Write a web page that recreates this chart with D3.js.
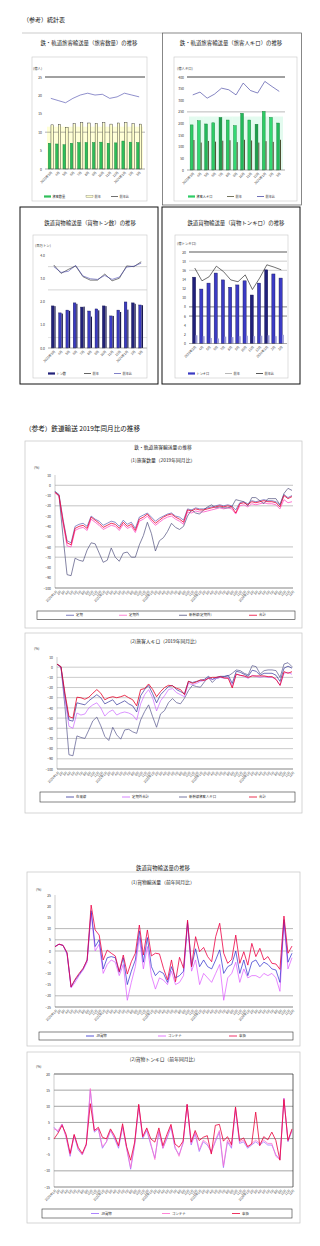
<!DOCTYPE html>
<html>
<head>
<meta charset="utf-8">
<script src="https://cdn.jsdelivr.net/npm/d3@7"></script>
<style>
  body { margin: 0; background: #fff; }
</style>
</head>
<body>
<div id="container"></div>
<script>
const FONT = '"Noto Sans CJK JP", "Noto Sans", sans-serif';

// ---- 上段 統計表（月別） ----
const smallCats = ["2023年3月", "4月", "5月", "6月", "7月", "8月", "9月", "10月", "11月", "12月", "2024年1月", "2月", "3月"];

const tlCur = [7.0, 6.8, 6.6, 7.0, 7.2, 7.2, 7.2, 7.3, 7.0, 7.1, 7.6, 7.3, 7.2];
const tlPrev = [12.0, 12.1, 11.2, 12.3, 12.6, 12.5, 12.4, 12.6, 12.2, 12.5, 12.7, 12.3, 12.2];
const tlRatio = [19.2, 18.6, 18.0, 19.2, 20.1, 20.6, 20.1, 20.3, 19.2, 19.6, 20.6, 20.1, 19.6];

const trCur = [194, 212, 198, 203, 226, 215, 191, 244, 215, 197, 252, 226, 202];
const trPrev = [129, 118, 125, 122, 126, 128, 120, 130, 127, 118, 124, 121, 130];
const trRatio = [323, 335, 309, 326, 352, 345, 323, 374, 342, 331, 381, 359, 338];

const blCur = [1.81, 1.51, 1.63, 1.94, 1.76, 1.59, 1.68, 1.81, 1.38, 1.63, 1.98, 1.94, 1.85];
const blPrev = [1.80, 1.48, 1.60, 1.90, 1.78, 1.35, 1.62, 1.80, 1.38, 1.55, 1.65, 1.90, 1.84];
const blLineA = [3.57, 3.21, 3.38, 3.53, 3.07, 2.92, 2.92, 3.18, 2.89, 3.00, 3.53, 3.50, 3.71];
const blLineB = [3.50, 3.25, 3.30, 3.55, 3.10, 2.98, 2.95, 3.12, 2.95, 3.05, 3.48, 3.52, 3.65];

const brCur = [14.5, 11.9, 13.2, 15.4, 13.9, 12.3, 12.8, 13.7, 10.6, 13.2, 16.1, 15.2, 14.3];
const brPrev = [1.8, 1.6, 1.2, 1.1, 1.5, 1.4, 1.6, 1.7, 1.6, 1.7, 1.8, 1.6, 1.9];
const brRatio = [16.5, 13.7, 14.6, 16.9, 15.7, 13.9, 13.5, 15.0, 11.8, 14.3, 17.2, 16.7, 16.1];

// ---- 2019年同月比 / 前年同月比 ----
const months = [
  "2020年1月", "2月", "3月", "4月", "5月", "6月", "7月", "8月", "9月", "10月", "11月", "12月",
  "2021年1月", "2月", "3月", "4月", "5月", "6月", "7月", "8月", "9月", "10月", "11月", "12月",
  "2022年1月", "2月", "3月", "4月", "5月", "6月", "7月", "8月", "9月", "10月", "11月", "12月",
  "2023年1月", "2月", "3月", "4月", "5月", "6月", "7月", "8月", "9月", "10月", "11月", "12月",
  "2024年1月", "2月", "3月", "4月", "5月", "6月", "7月", "8月", "9月", "10月", "11月", "12月"
];

const paxNames = ["定期", "定期外", "新幹線(定期外)", "合計"];
const paxTeiki = [-6, -9, -33, -54, -56, -40, -38, -37, -40, -30, -33, -35, -39, -37, -35, -36, -40, -34, -38, -36, -42, -31, -29, -27, -31, -35, -32, -30, -28, -27, -30, -31, -34, -23, -24, -22, -23, -23, -22, -21, -20, -19, -20, -19, -20, -24, -17, -16, -18, -15, -16, -15, -14, -15, -15, -16, -19, -9, -12, -10];
const paxGai = [-7, -11, -37, -59, -60, -44, -42, -41, -44, -33, -36, -39, -43, -41, -39, -40, -44, -38, -42, -40, -46, -35, -33, -30, -35, -39, -36, -33, -31, -30, -33, -35, -38, -26, -27, -25, -26, -26, -25, -24, -23, -22, -23, -22, -23, -28, -20, -19, -21, -18, -19, -18, -17, -18, -18, -19, -23, -14, -17, -16];
const paxShin = [-6, -10, -50, -87, -88, -71, -73, -74, -63, -56, -57, -66, -75, -73, -61, -70, -74, -66, -65, -70, -70, -58, -49, -36, -47, -64, -54, -51, -45, -37, -41, -43, -40, -30, -24, -27, -28, -24, -21, -19, -22, -21, -22, -22, -21, -14, -15, -16, -20, -12, -12, -15, -18, -13, -13, -13, -19, -8, -3, -5];
const paxTotal = [-7, -10, -35, -56, -58, -42, -40, -39, -42, -31, -34, -37, -41, -39, -37, -38, -42, -36, -40, -38, -44, -33, -31, -28, -33, -37, -34, -31, -29, -28, -31, -33, -36, -24, -25, -23, -24, -24, -23, -22, -21, -20, -21, -20, -21, -27, -18, -17, -19, -16, -17, -16, -15, -16, -16, -17, -21, -10, -13, -11];

const pkmNames = ["在来線", "定期外合計", "新幹線旅客人キロ", "合計"];
const pkmZai = [3, 0, -28, -52, -53, -35, -36, -37, -33, -30, -27, -30, -36, -34, -32, -37, -35, -33, -36, -38, -44, -28, -22, -18, -26, -35, -27, -23, -19, -18, -22, -24, -26, -14, -15, -14, -13, -12, -9, -12, -10, -9, -9, -8, -16, -4, -5, -7, -9, -3, -4, -8, -6, -6, -6, -8, -14, -1, 1, -1];
const pkmGai = [3, 0, -32, -58, -60, -45, -47, -46, -40, -37, -35, -40, -48, -44, -42, -47, -45, -44, -45, -47, -52, -36, -27, -22, -30, -43, -33, -28, -22, -21, -25, -27, -29, -16, -17, -16, -14, -13, -11, -12, -11, -10, -11, -10, -19, -7, -8, -9, -11, -8, -9, -10, -9, -10, -10, -12, -18, -6, -5, -7];
const pkmShin = [3, 0.5, -38.7, -86, -87, -67.5, -69, -70, -61.6, -52.7, -49, -57.6, -68, -72, -59, -66.5, -70.7, -61.6, -61, -63.5, -65, -51.8, -43.6, -37, -48.5, -59, -45.9, -42.6, -34.8, -30.8, -34.8, -36, -30.5, -23, -17.8, -19, -19.7, -14.5, -10, -15, -11, -10, -9.3, -8.6, -6, -2.7, -3.4, -6, -7.6, 1.5, 0.5, -6.7, -3.4, -2.7, -2.7, -3.4, -10, 3.1, 4.4, 0.5];
const pkmTotal = [3, 0.5, -25.6, -48.5, -50, -29.5, -30, -31.5, -29.5, -25.6, -22, -25.6, -32, -30, -29, -30, -29, -27.6, -30, -32, -38, -22, -21, -16.5, -21.7, -29, -24, -20, -17.8, -18.4, -20.7, -22, -27, -13.8, -15.8, -14.5, -12.5, -13, -11, -10, -10, -9.3, -10.6, -11, -20.4, -6.7, -8, -8.6, -10, -8.6, -8.6, -8.6, -8.6, -9.3, -9.3, -12, -17.8, -4.4, -6, -4.4];

const frNames = ["JR貨物", "コンテナ", "車扱"];
const frJR = [2, 3, 2.5, -1, -16, -13, -10.5, -8, -4, 18, 2, 5, -8, -3, -2.5, -3, -9.5, -3, -15, -9, -4, 9, -5, 6, -7, -11, -9, -10, -14, -7, -12, -11, -9, 13, -7, 1, -7, -4, -7, -8, -4, 0.5, -10, -7, -6, 0, -10, -4, -11, -5, -4, -7, -5, -6, -8, -8.5, -14, 14, -5, -1];
const frCont = [2, 3, 2.5, -1.5, -16.5, -14, -11, -8.5, -5, 17, 0, 3, -10, -6, -4, -5, -11, -6, -22, -14, -7, 6, -8, 2, -11, -17, -12, -13, -15, -9, -15, -14, -11, 12, -9, -4, -15, -10, -12, -14, -10, -6, -22, -12, -10, -5, -14, -8, -12, -11, -11, -12, -10, -11, -10, -12, -18, 13, -8, -3];
const frSha = [1.9, 3.1, 2.5, -0.7, -16, -12.6, -10, -7.7, -4, 20.5, 9.4, 7.1, -4, 0.4, -1, -2.2, -9.2, -1.8, -10.3, -4.8, -1, 11.6, -1.8, 9.4, -2.2, -1, -1.3, -7.7, -12.9, -4, -13.7, -2.8, -7.7, 13.8, -7, 6.4, -0.3, 1.6, -2.5, -4.8, 6.4, 12.4, -1, -5.5, -3.7, 7.1, -5.5, -0.3, -6.3, 3.4, -2.5, 1.2, -4, -2.5, -5.5, -5.8, -8.2, 15.6, -1, 2.2];

const tkJR = [3.5, 2, 4.5, 0.5, -5.5, 1, -3.5, -5, -2, 15, 2, 3, -3, -1, 2.5, 0, -3, 3.5, -3, -9.5, -2, 10, 0, 2.5, -2, -6, 2, -3, 0, 3.5, -3, -5, -1.5, 10.5, -2, 1.5, -4, -1, -2, -4, -1, 2, -9, -1, -3, 9, -1.5, -1, -3, -2, -1, -2, -1, -2, -2, -5, -6.5, 12.5, -1, 2.5];
const tkCont = [3, 2.5, 4.5, 0.5, -5, 1, -3, -5, -2, 15.5, 2.5, 3, -2.5, -1, 2.5, 0.5, -2.5, 4, -3, -9, -1.5, 10.5, 0.5, 3, -1.5, -6.5, 2.5, -3, 0.5, 4, -2.5, -5.5, -1, 10.5, -1.5, 2, -3.5, -0.5, -1.5, -4.5, -0.5, 2.5, -8.5, -0.5, -2.5, 9.5, -1, -0.5, -2.5, -1.5, -0.5, -1.5, -0.5, -1.5, -1.5, -5.5, -6.5, 12.5, -0.5, 2.5];
const tkSha = [-0.1, 1.7, 4.1, 1.3, -4.6, 1.3, -2.7, -4.6, -1.7, 10.8, 2.5, 3.5, 0.4, -0.1, 3, 0.9, -2.2, 4.6, -2.5, -6.7, -1.1, 10.6, 0.6, 3.3, -0.1, -1.1, 3.3, -2.2, 1.3, 4.4, -1.7, -2.7, -0.8, 10.6, -1.1, 2.5, -0.6, 0.4, 0.9, -4.8, 4.1, 4.4, -0.8, 0.6, -1.9, 9.8, -0.6, 0.2, -2.5, -1.7, 8.2, -2.2, 0.6, -0.4, 2, -0.6, -6.7, 12.1, -0.6, 3];

const svg = d3.select("#container")
    .append("svg")
    .attr("width", 320)
    .attr("height", 1246)
    .style("font-family", FONT);

svg.append("rect").attr("width", 320).attr("height", 1246).attr("fill", "#fff");

function label(x, y, str, size, anchor = "start", color = "#222") {
    return svg.append("text")
        .attr("x", x).attr("y", y)
        .attr("font-size", size)
        .attr("text-anchor", anchor)
        .attr("fill", color)
        .text(str);
}

function rect(x, y, w, h, stroke, sw) {
    return svg.append("rect")
        .attr("x", x).attr("y", y).attr("width", w).attr("height", h)
        .attr("fill", "none").attr("stroke", stroke).attr("stroke-width", sw);
}

// small combo chart (bars + line)
function smallChart(c) {
    const g = svg.append("g");
    label(c.titleX, c.titleY, c.title, 5.4, "middle", "#222");
    rect(c.frame[0], c.frame[1], c.frame[2], c.frame[3], "#c8c8c8", 0.6);

    const x = d3.scaleBand().domain(smallCats).range([c.px0, c.px1]).paddingInner(0.12).paddingOuter(0.08);
    const y = d3.scaleLinear().domain(c.domain).range([c.base, c.top]);

    // background columns
    if (c.bg) {
        g.selectAll(null).data(smallCats).join("rect")
            .attr("x", d => x(d) - 0.6).attr("width", x.bandwidth() + 1.2)
            .attr("y", y(c.bg.to)).attr("height", c.base - y(c.bg.to))
            .attr("fill", c.bg.color);
    }

    c.grid.forEach(gv => {
        g.append("line")
            .attr("x1", c.px0 - 2).attr("x2", c.px1 + 2)
            .attr("y1", y(gv.v)).attr("y2", y(gv.v))
            .attr("stroke", gv.color).attr("stroke-width", gv.w);
    });

    const yAxis = d3.axisLeft(y).tickValues(c.ticks).tickSize(0).tickPadding(3);
    g.append("g")
        .attr("transform", "translate(" + (c.px0 - 2) + ",0)")
        .call(yAxis)
        .call(a => a.select(".domain").remove())
        .attr("font-size", 3.4).attr("font-family", FONT)
        .selectAll("text").attr("fill", "#333");

    label(c.unit[0], c.unit[1], c.unit[2], 3.4, "start", "#333");

    c.bars.forEach(b => {
        g.selectAll(null).data(b.data).join("rect")
            .attr("x", (d, i) => x(smallCats[i]) + x.bandwidth() * b.off)
            .attr("width", x.bandwidth() * b.w)
            .attr("y", d => y(d))
            .attr("height", d => y(0) - y(d))
            .attr("fill", (d, i) => b.colors ? b.colors[i % b.colors.length] : b.fill)
            .attr("stroke", b.stroke || "none")
            .attr("stroke-width", 0.4);
    });

    c.lines.forEach(l => {
        g.append("path").datum(l.data)
            .attr("d", d3.line().x((d, i) => x(smallCats[i]) + x.bandwidth() / 2).y(d => y(d)))
            .attr("fill", "none").attr("stroke", l.color).attr("stroke-width", l.w || 0.6);
    });

    // baseline + rotated month labels
    g.append("line").attr("x1", c.px0 - 2).attr("x2", c.px1 + 2)
        .attr("y1", c.base).attr("y2", c.base).attr("stroke", "#555").attr("stroke-width", 0.5);
    const xAxis = d3.axisBottom(x).tickSize(0);
    g.append("g")
        .attr("transform", "translate(0," + c.base + ")")
        .call(xAxis)
        .call(a => a.select(".domain").remove())
        .attr("font-size", 3.2).attr("font-family", FONT)
        .selectAll("text")
        .attr("x", 0).attr("y", 0).attr("dy", "0.35em")
        .attr("transform", "translate(1,3) rotate(-45)")
        .style("text-anchor", "end").attr("fill", "#333");

    // legend
    c.legend.forEach(it => {
        if (it.type === "bar") {
            g.append("rect").attr("x", it.x).attr("y", c.legendY - 2.6).attr("width", 7).attr("height", 2.2)
                .attr("fill", it.color).attr("stroke", it.stroke || "none").attr("stroke-width", 0.3);
        } else {
            g.append("line").attr("x1", it.x).attr("x2", it.x + 7)
                .attr("y1", c.legendY - 1.5).attr("y2", c.legendY - 1.5)
                .attr("stroke", it.color).attr("stroke-width", 0.7);
        }
        label(it.x + 8.5, c.legendY, it.label, 3.2, "start", "#333");
    });
}

// monthly line chart (2019年同月比 etc.)
function lineChart(c) {
    const g = svg.append("g");
    rect(c.box[0], c.box[1], c.box[2], c.box[3], "#c4c4c4", 0.7);
    c.titles.forEach(t => label(t[0], t[1], t[2], 4.8, "middle", "#222"));

    const x = d3.scalePoint().domain(d3.range(months.length)).range([c.px0, c.px1]);
    const y = d3.scaleLinear().domain(c.domain).range([c.base, c.top]);

    c.grid.forEach(v => {
        g.append("line").attr("x1", c.px0).attr("x2", c.px1 + 1)
            .attr("y1", y(v)).attr("y2", y(v))
            .attr("stroke", c.gridColor).attr("stroke-width", 0.6);
    });
    if (c.frame) {
        g.append("line").attr("x1", c.px0).attr("x2", c.px1 + 1).attr("y1", c.top).attr("y2", c.top)
            .attr("stroke", "#222").attr("stroke-width", 0.7);
        g.append("line").attr("x1", c.px1 + 1).attr("x2", c.px1 + 1).attr("y1", c.top).attr("y2", c.base)
            .attr("stroke", "#222").attr("stroke-width", 0.7);
    }
    g.append("line").attr("x1", c.px0).attr("x2", c.px0).attr("y1", c.top).attr("y2", c.base)
        .attr("stroke", "#999").attr("stroke-width", 0.5);
    g.append("line").attr("x1", c.px0).attr("x2", c.px1 + 1).attr("y1", c.base).attr("y2", c.base)
        .attr("stroke", "#333").attr("stroke-width", 0.6);

    const ticks = d3.range(c.domain[0], c.domain[1] + 0.01, c.step);
    g.append("g")
        .attr("transform", "translate(" + c.px0 + ",0)")
        .call(d3.axisLeft(y).tickValues(ticks).tickSize(0).tickPadding(4))
        .call(a => a.select(".domain").remove())
        .attr("font-size", 3.4).attr("font-family", FONT)
        .selectAll("text").attr("fill", "#333");
    label(c.unit[0], c.unit[1], "(%)", 3.4, "start", "#333");

    g.append("g")
        .attr("transform", "translate(0," + c.base + ")")
        .call(d3.axisBottom(x).tickSize(0).tickFormat(i => months[i]))
        .call(a => a.select(".domain").remove())
        .attr("font-size", 3.1).attr("font-family", FONT)
        .selectAll("text")
        .attr("x", 0).attr("y", 0).attr("dy", "0.35em")
        .attr("transform", "translate(1.5,3) rotate(-45)")
        .style("text-anchor", "end").attr("fill", "#333");

    const line = d3.line().x((d, i) => x(i)).y(d => y(d));
    c.series.forEach(s => {
        g.append("path").datum(s.data)
            .attr("d", line)
            .attr("fill", "none").attr("stroke", s.color).attr("stroke-width", s.w || 0.7);
    });

    rect(c.legendBox[0], c.legendBox[1], c.legendBox[2], c.legendBox[3], "#333", 0.6);
    const ly = c.legendBox[1] + c.legendBox[3] / 2;
    c.series.forEach((s, i) => {
        const lx = c.legendX[i];
        g.append("line").attr("x1", lx).attr("x2", lx + 8).attr("y1", ly).attr("y2", ly)
            .attr("stroke", s.color).attr("stroke-width", 0.8);
        label(lx + 10, ly + 1.2, s.name, 3.4, "start", "#333");
    });
}

// ---------- 上段 ----------
label(23, 22, "（参考）統計表", 6, "start", "#111");
svg.append("line").attr("x1", 22).attr("x2", 162).attr("y1", 33).attr("y2", 33)
    .attr("stroke", "#ddd").attr("stroke-width", 1.5);
rect(162.5, 33, 139, 172, "#555", 0.7);
rect(20, 207, 138, 177, "#111", 1);
rect(162, 207, 138, 177, "#111", 1);

smallChart({
    title: "鉄・軌道旅客輸送量（旅客数量）の推移", titleX: 89, titleY: 45,
    frame: [32, 57, 115, 144],
    px0: 47, px1: 143, base: 169, top: 77, domain: [0, 25],
    ticks: [0, 5, 10, 15, 20, 25],
    unit: [33, 70, "(億人)"],
    grid: [{ v: 25, color: "#111", w: 0.8 }, { v: 10, color: "#666", w: 0.5 }],
    bg: { to: 11.5, color: "#ffffd6" },
    bars: [
        { data: tlPrev, fill: "#ffffcc", stroke: "#222", w: 0.38, off: 0.52 },
        { data: tlCur, fill: "#2fbf5a", stroke: "#127a35", w: 0.38, off: 0.1 }
    ],
    lines: [{ data: tlRatio, color: "#4444aa" }],
    legendY: 198,
    legend: [
        { x: 44, label: "旅客数量", type: "bar", color: "#2fbf5a" },
        { x: 86, label: "前年", type: "bar", color: "#ffffcc", stroke: "#555" },
        { x: 111, label: "前年比", type: "line", color: "#333" }
    ]
});

smallChart({
    title: "鉄・軌道旅客輸送量（旅客人キロ）の推移", titleX: 231, titleY: 45,
    frame: [174, 57, 123, 144],
    px0: 189, px1: 283, base: 170, top: 77, domain: [0, 400],
    ticks: d3.range(0, 401, 50),
    unit: [177, 70, "(億人キロ)"],
    grid: [{ v: 400, color: "#111", w: 0.8 }, { v: 250, color: "#777", w: 0.5 }],
    bg: { to: 230, color: "#e3fbef" },
    bars: [
        { data: trCur, colors: ["#2ecc66", "#33d973", "#22b85a", "#2ecc66", "#1f9e4c"], stroke: "#127a35", w: 0.45, off: 0.1 },
        { data: trPrev, fill: "#3a3a1a", w: 0.14, off: 0.62 }
    ],
    lines: [{ data: trRatio, color: "#333399" }],
    legendY: 198,
    legend: [
        { x: 188, label: "旅客人キロ", type: "bar", color: "#2ecc66" },
        { x: 227, label: "前年", type: "line", color: "#3a3a1a" },
        { x: 257, label: "前年比", type: "line", color: "#333399" }
    ]
});

smallChart({
    title: "鉄道貨物輸送量（貨物トン数）の推移", titleX: 90, titleY: 225,
    frame: [33, 235, 114, 143],
    px0: 50, px1: 145, base: 348, top: 255, domain: [0, 4],
    ticks: [0, 1, 2, 3, 4],
    unit: [35, 247, "(百万トン)"],
    grid: [{ v: 3.5, color: "#aaa", w: 0.5 }, { v: 2.5, color: "#aaa", w: 0.5 }, { v: 0.45, color: "#bbb", w: 0.4 }],
    bars: [
        { data: blCur, colors: ["#22227a", "#3b3bc4", "#3b3bc4", "#3b3bc4", "#22227a", "#3b3bc4", "#3b3bc4"], stroke: "#15154d", w: 0.42, off: 0.12 },
        { data: blPrev, fill: "#1a1a4d", w: 0.18, off: 0.6 }
    ],
    lines: [{ data: blLineA, color: "#222" }, { data: blLineB, color: "#4a4ab0" }],
    legendY: 375,
    legend: [
        { x: 48, label: "トン数", type: "bar", color: "#22227a" },
        { x: 84, label: "前年", type: "line", color: "#222" },
        { x: 114, label: "前年比", type: "line", color: "#4a4ab0" }
    ]
});

smallChart({
    title: "鉄道貨物輸送量（貨物トンキロ）の推移", titleX: 236, titleY: 225,
    frame: [175, 235, 113, 143],
    px0: 191, px1: 285, base: 343.5, top: 252, domain: [0, 20],
    ticks: d3.range(0, 21, 2),
    unit: [177, 245, "(億トンキロ)"],
    grid: [{ v: 20, color: "#111", w: 0.7 }, { v: 18, color: "#999", w: 0.5 }, { v: 16, color: "#999", w: 0.5 }, { v: 8, color: "#333", w: 0.6 }, { v: 6, color: "#333", w: 0.6 }],
    bars: [
        { data: brCur, colors: ["#20207a", "#3b3bc4", "#3b3bc4", "#3b3bc4", "#3b3bc4", "#3b3bc4", "#3b3bc4", "#3b3bc4", "#20207a", "#3b3bc4", "#20207a", "#3b3bc4", "#3b3bc4"], stroke: "#15154d", w: 0.5, off: 0.15 },
        { data: brPrev, fill: "#9a9ad6", w: 0.3, off: 0.62 }
    ],
    lines: [{ data: brRatio, color: "#111" }],
    legendY: 375,
    legend: [
        { x: 188, label: "トンキロ", type: "bar", color: "#3b3bc4" },
        { x: 225, label: "前年", type: "line", color: "#999" },
        { x: 256, label: "前年比", type: "line", color: "#111" }
    ]
});

// ---------- 2019年同月比 ----------
label(25, 431, "（参考）鉄道輸送 2019年同月比の推移", 6.6, "start", "#111");

lineChart({
    box: [25, 441, 277, 187],
    titles: [[163, 449, "鉄・軌道旅客輸送量の推移"], [163, 462, "(1)旅客数量（2019年同月比）"]],
    px0: 55, px1: 292, top: 475, base: 588, domain: [-100, 10], step: 10,
    grid: [0, -20, -60, -70], gridColor: "#9a9a9a",
    unit: [34, 469],
    series: [
        { name: paxNames[0], data: paxTeiki, color: "#5b5bb0" },
        { name: paxNames[1], data: paxGai, color: "#ff66cc", w: 0.9 },
        { name: paxNames[2], data: paxShin, color: "#50507e" },
        { name: paxNames[3], data: paxTotal, color: "#ee0033", w: 0.8 }
    ],
    legendBox: [37, 611, 258, 8.5],
    legendX: [66, 119, 179, 249]
});

lineChart({
    box: [25, 633, 277, 180],
    titles: [[165, 643, "(2)旅客人キロ（2019年同月比）"]],
    px0: 57, px1: 292, top: 657, base: 769, domain: [-100, 10], step: 10,
    grid: d3.range(-90, 10, 10), gridColor: "#a8a8a8",
    unit: [34, 650],
    series: [
        { name: pkmNames[2], data: pkmShin, color: "#56568c" },
        { name: pkmNames[1], data: pkmGai, color: "#cc66ff" },
        { name: pkmNames[0], data: pkmZai, color: "#333399" },
        { name: pkmNames[3], data: pkmTotal, color: "#e60026", w: 0.8 }
    ],
    legendBox: [40, 792, 255, 10],
    legendX: [179, 122, 66, 249]
});

// ---------- 貨物 ----------
label(163, 870, "鉄道貨物輸送量の推移", 5.4, "middle", "#222");

lineChart({
    box: [27, 872, 273, 174],
    titles: [[163, 884, "(1)貨物輸送量（前年同月比）"]],
    px0: 55, px1: 292, top: 895, base: 1007, domain: [-25, 25], step: 5,
    grid: [10, 5, 0, -20], gridColor: "#888",
    unit: [36, 891],
    series: [
        { name: frNames[1], data: frCont, color: "#dd55ff" },
        { name: frNames[0], data: frJR, color: "#2a2acc" },
        { name: frNames[2], data: frSha, color: "#ee0044", w: 0.8 }
    ],
    legendBox: [39, 1032, 254, 8],
    legendX: [158, 86, 229]
});

lineChart({
    box: [27, 1052, 273, 171],
    titles: [[164, 1061, "(2)貨物トンキロ（前年同月比）"]],
    px0: 54, px1: 292, top: 1074, base: 1187, domain: [-15, 20], step: 5,
    grid: [15, 10, 5, 0, -10], gridColor: "#666",
    frame: true,
    unit: [36, 1068],
    series: [
        { name: frNames[0], data: tkJR, color: "#9966ff" },
        { name: frNames[1], data: tkCont, color: "#ff66cc" },
        { name: frNames[2], data: tkSha, color: "#e8003a", w: 0.8 }
    ],
    legendBox: [42, 1209, 250, 9],
    legendX: [91, 162, 232]
});
</script>
</body>
</html>
